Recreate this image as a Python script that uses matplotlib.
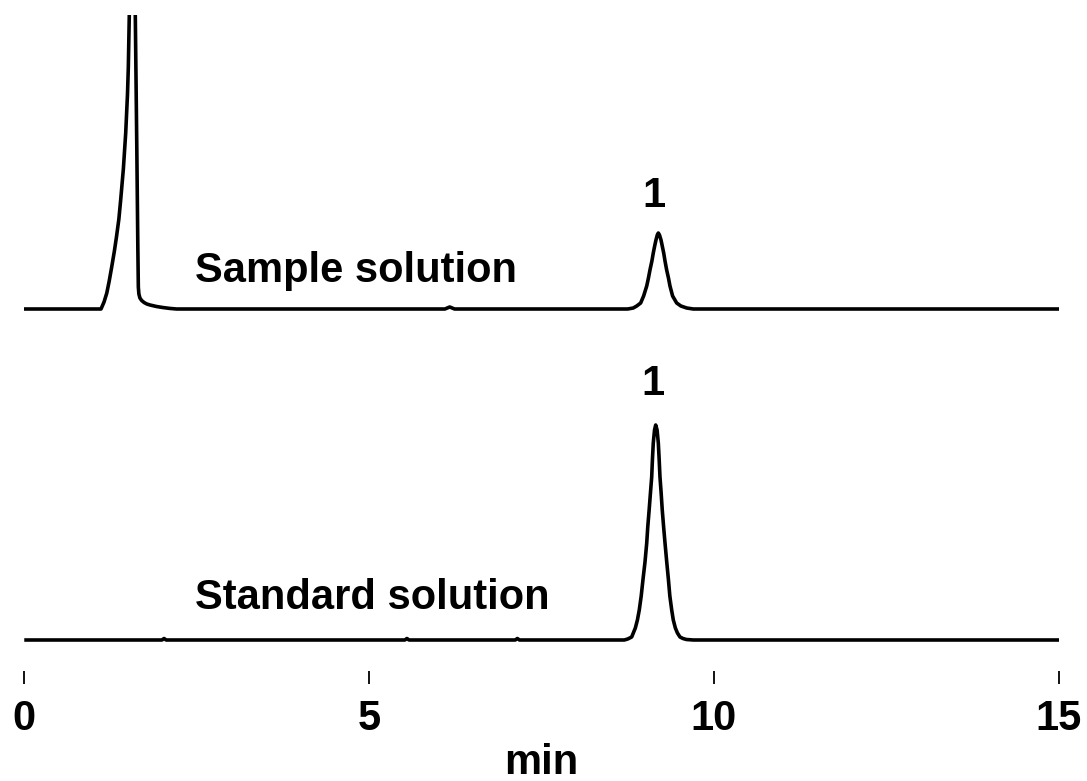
import matplotlib
matplotlib.use("Agg")
import matplotlib.pyplot as plt

plt.rcParams['font.family'] = ['Liberation Sans', 'DejaVu Sans']
plt.rcParams['font.weight'] = 'bold'

# Sample solution trace: time (min) and signal above its own baseline
time_sample = [0.0, 1.116, 1.16, 1.20, 1.235, 1.271, 1.31, 1.34, 1.375, 1.401,
               1.44, 1.474, 1.50, 1.512, 1.526, 1.545, 1.57, 1.595, 1.613, 1.635,
               1.650, 1.657, 1.665, 1.68, 1.705, 1.74, 1.78, 1.826, 1.92, 2.01,
               2.11, 2.21, 6.10, 6.17, 6.24, 8.75, 8.83, 8.88, 8.937, 8.98,
               9.025, 9.05, 9.072, 9.10, 9.120, 9.14, 9.159, 9.178, 9.193, 9.21,
               9.232, 9.25, 9.271, 9.29, 9.314, 9.34, 9.362, 9.40, 9.459, 9.52,
               9.604, 9.70, 15.0]
signal_sample = [0, 0, 7, 16, 28, 42, 58, 72, 90, 109,
                 140, 176, 215, 242, 294, 380, 460, 380, 294, 160,
                 60, 22, 15, 11, 8.5, 6.5, 5, 4, 2.5, 1.5,
                 0.6, 0, 0, 2, 0, 0, 1, 3, 6, 13,
                 23, 31, 39, 48, 56, 63, 69, 74, 76, 74,
                 69, 63, 56, 48, 39, 31, 23, 13, 6, 3,
                 1, 0, 0]

# Standard solution trace
time_standard = [0.03, 2.0, 2.03, 2.06, 5.52, 5.55, 5.58, 7.12, 7.15, 7.18,
                 8.70, 8.75, 8.807, 8.86, 8.89, 8.917, 8.945, 8.97, 9.00, 9.025,
                 9.04, 9.06, 9.08, 9.097, 9.108, 9.120, 9.138, 9.155, 9.175, 9.193,
                 9.205, 9.217, 9.233, 9.25, 9.27, 9.29, 9.315, 9.34, 9.36, 9.387,
                 9.41, 9.44, 9.47, 9.507, 9.55, 9.60, 9.70, 15.0]
signal_standard = [0, 0, 1.5, 0, 0, 1.5, 0, 0, 1.5, 0,
                   0, 1, 3, 12, 20, 30, 44, 60, 78, 97,
                   113, 130, 148, 163, 181, 197, 210, 215, 210, 197,
                   181, 163, 148, 130, 113, 97, 78, 60, 44, 30,
                   20, 12, 7, 3, 1.5, 0.5, 0, 0]

sample_offset = 331
trace_labels = ["Sample solution", "Standard solution"]
peak_labels = ["1", "1"]
x_ticks = [0, 5, 10, 15]

fig = plt.figure(figsize=(10.87, 7.81), dpi=100)
ax = fig.add_axes([0.02208, 0.14085, 0.95216, 0.83995])

ax.plot(time_sample, [s + sample_offset for s in signal_sample], color='black',
        lw=2.6, solid_joinstyle='round')
ax.plot(time_standard, signal_standard, color='black', lw=2.6, solid_joinstyle='round')

# trace names and peak numbers
ax.text(2.478, sample_offset + 27, trace_labels[0], fontsize=30, fontweight='bold',
        ha='left', va='baseline')
ax.text(2.478, 31, trace_labels[1], fontsize=30, fontweight='bold',
        ha='left', va='baseline')
ax.text(9.13, sample_offset + 102, peak_labels[0], fontsize=30, fontweight='bold',
        ha='center', va='baseline')
ax.text(9.116, 245, peak_labels[1], fontsize=30, fontweight='bold',
        ha='center', va='baseline')

ax.set_xlim(0, 15)
ax.set_ylim(-31, 625)
for side in ['top', 'right', 'left', 'bottom']:
    ax.spines[side].set_visible(False)
ax.set_yticks([])
ax.set_xticks(x_ticks)
ax.set_xticklabels([str(t) for t in x_ticks], fontsize=30, fontweight='bold')
ax.tick_params(axis='x', direction='out', length=9, width=1.3, pad=11)
ax.set_xlabel("min", fontsize=30, fontweight='bold', labelpad=3)

fig.savefig("out.png", dpi=100)
